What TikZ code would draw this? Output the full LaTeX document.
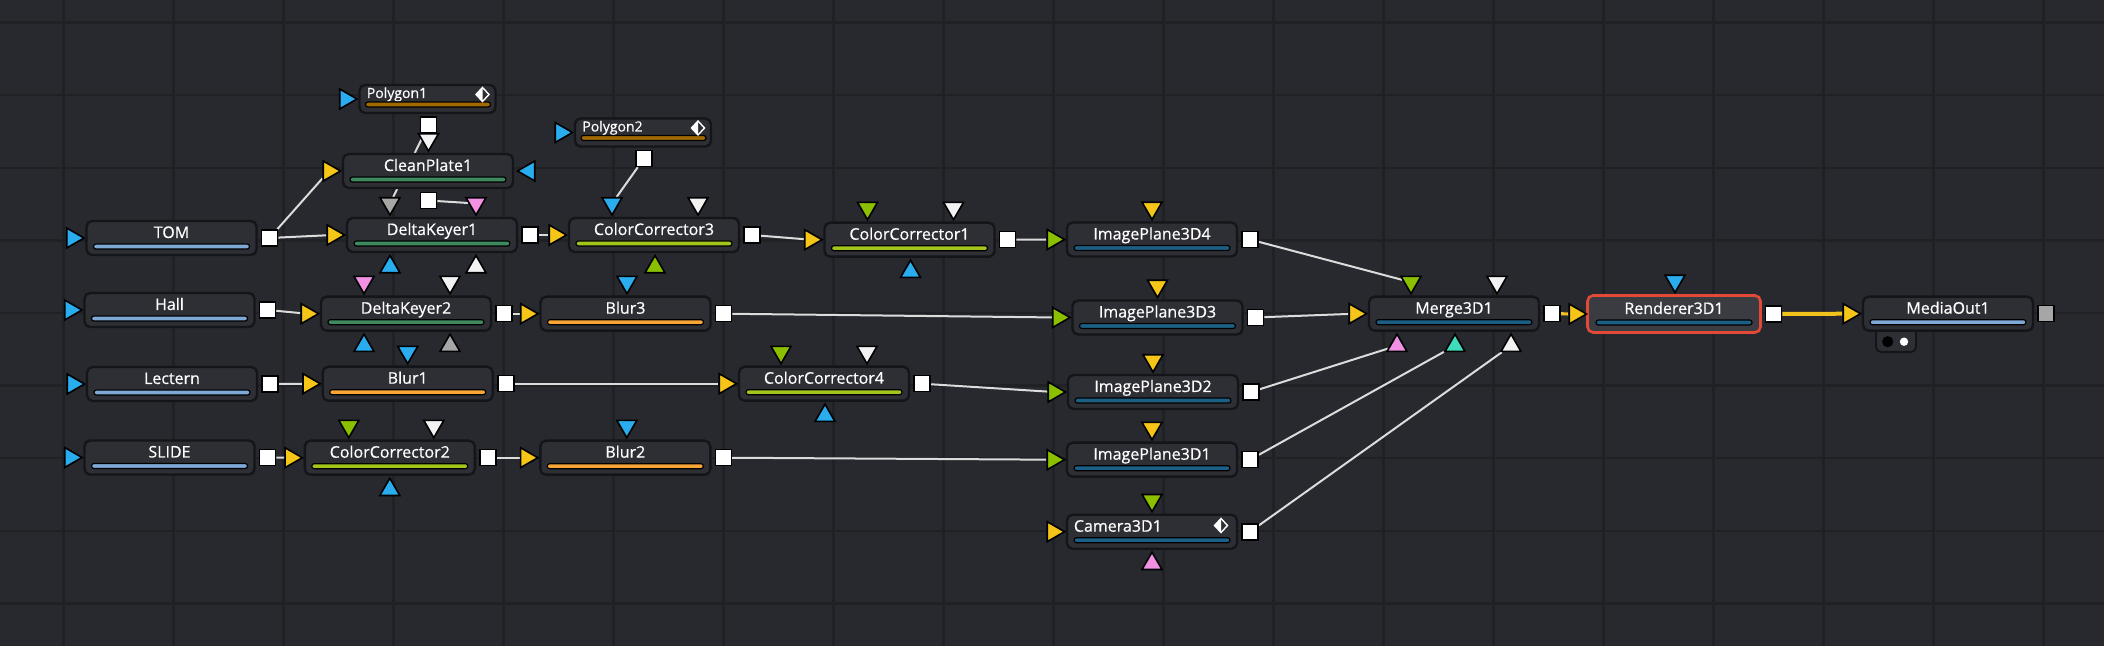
\documentclass[tikz,border=0pt]{standalone}
\usepackage{fontspec}
\setmainfont{Open Sans}
\usepackage{tikz}
\usetikzlibrary{calc,shapes.geometric}
\definecolor{bgx}{HTML}{28292E}
\definecolor{gridx}{HTML}{202125}
\definecolor{nodex}{HTML}{2E2F35}
\definecolor{nodesel}{HTML}{3A3C42}
\definecolor{rimx}{HTML}{141518}
\definecolor{selx}{HTML}{E24A37}
\definecolor{pblue}{HTML}{29ADEF}
\definecolor{pyel}{HTML}{F5C518}
\definecolor{pgrn}{HTML}{8BC000}
\definecolor{ppink}{HTML}{F291E4}
\definecolor{pteal}{HTML}{3FDDBB}
\definecolor{pgray}{HTML}{A6A6A6}
\definecolor{pwhite}{HTML}{F2F2F2}
\definecolor{bload}{HTML}{7EA8D6}
\definecolor{bkey}{HTML}{3E8A5E}
\definecolor{bcc}{HTML}{A2C51C}
\definecolor{bblur}{HTML}{F7A535}
\definecolor{bthree}{HTML}{1C5F85}
\definecolor{bpoly}{HTML}{A06A00}
\definecolor{linkx}{HTML}{DCDCDC}
\definecolor{ylinkx}{HTML}{F2C21D}
\pgfdeclarelayer{bg}
\pgfdeclarelayer{edges}
\pgfsetlayers{bg,edges,main}
\tikzset{
  toolbox/.style={draw=rimx,line width=1.2pt,rounded corners=2.8pt,fill=nodex,minimum width=85pt,minimum height=17pt,inner sep=0pt,outer sep=0pt},
  sel/.style={draw=selx,fill=nodesel,line width=1.3pt,minimum width=86.5pt,minimum height=18.5pt},
  polybox/.style={toolbox,minimum width=68pt,minimum height=14pt},
  tlabel/.style={text=white,font=\fontsize{8}{9}\selectfont\addfontfeature{FakeBold=0.5},inner sep=0pt,anchor=base},
  bar/.style={draw=black,line width=0.6pt,rounded corners=1.2pt},
  pin/.style={regular polygon,regular polygon sides=3,minimum size=11.5pt,inner sep=0pt,draw=black,line width=0.8pt,shape border rotate=-90},
  pout/.style={rectangle,minimum size=8pt,inner sep=0pt,fill=white,draw=black,line width=0.8pt},
  lnk/.style={draw=linkx,line width=1pt},
  ylnk/.style={draw=ylinkx,line width=1.6pt},
  gridln/.style={draw=gridx,line width=1.2pt}
}
% tool node: name, x, y, label, bar colour, input colour
\newcommand{\tool}[7][]{%
  \node[toolbox,#1] (#2) at (#3,#4) {};
  \node[tlabel] (#2-lbl) at (#3,#4) {#5};
  \draw[bar,fill=#6] (#3-78,#4+6) rectangle (#3+78,#4+11);
  \node[pin,fill=#7] (#2-in) at (#3-99,#4) {};}
\newcommand{\keyicon}[2]{%
  \fill[white] (#1,#2-7)--(#1-6.5,#2)--(#1,#2+7)--cycle;
  \draw[white,line width=0.7pt] (#1,#2-7)--(#1+6.5,#2)--(#1,#2+7)--(#1-6.5,#2)--cycle;}
\newcommand{\poly}[4]{%
  \node[polybox] (#1) at (#2,#3) {};
  \node[tlabel,anchor=base west,font=\fontsize{7}{8}\selectfont\addfontfeature{FakeBold=0.5}] at (#2-61,#3-1) {#4};
  \draw[bar,fill=bpoly] (#2-62,#3+3) rectangle (#2+63,#3+8);
  \node[pin,fill=pblue] (#1-in) at (#2-82,#3) {};
  \node[pout] (#1-out) at (#2+1,#3+26) {};
  \keyicon{#2+55}{#3-4.5}}
\newcommand{\tp}[4]{\node[pin,fill=#4,shape border rotate=180] (#1-#2) at ($(#1.north)+(#3,-14.5)$) {};}
\newcommand{\bp}[4]{\node[pin,fill=#4,shape border rotate=0] (#1-#2) at ($(#1.south)+(#3,15)$) {};}

\begin{document}
\begin{tikzpicture}[x=0.5pt,y=-0.5pt]
\useasboundingbox (0,0) rectangle (2104,646);
\begin{pgfonlayer}{bg}
\fill[bgx] (0,0) rectangle (2104,646);
\foreach \i in {0,...,18} \draw[gridln] ({63.6+110*\i},0) -- ++(0,646);
\foreach \j in {0,...,8} \draw[gridln] (0,{22.7+72.6*\j}) -- ++(2104,0);
\end{pgfonlayer}

% loaders
\tool{tom}{171.5}{238}{TOM}{bload}{pblue}
\tool{hall}{169.5}{310}{Hall}{bload}{pblue}
\tool{lectern}{172}{384}{Lectern}{bload}{pblue}
\tool{slide}{169.5}{457.5}{SLIDE}{bload}{pblue}
% masks and keyers
\poly{poly1}{427.5}{99}{Polygon1}
\poly{poly2}{643}{132.5}{Polygon2}
\tool{clean1}{428}{171}{CleanPlate1}{bkey}{pyel}
\node[pin,fill=pblue,shape border rotate=90] (clean1-r) at ($(clean1.east)+(16,0)$) {};
\node[pout] (clean1-out) at ($(clean1.south)+(0.5,12.5)$) {};
\tool{dkey1}{432}{235}{DeltaKeyer1}{bkey}{pyel}
\tool{dkey2}{406}{313.7}{DeltaKeyer2}{bkey}{pyel}
% colour and blur
\tool{blur1}{407.7}{383.7}{Blur1}{bblur}{pyel}
\tool{cc2}{389.8}{457.7}{ColorCorrector2}{bcc}{pyel}
\tool{cc3}{654}{235}{ColorCorrector3}{bcc}{pyel}
\tool{blur3}{625.5}{313.7}{Blur3}{bblur}{pyel}
\tool{blur2}{625.3}{457.7}{Blur2}{bblur}{pyel}
\tool{cc1}{909.5}{239.7}{ColorCorrector1}{bcc}{pyel}
\tool{cc4}{824}{383.7}{ColorCorrector4}{bcc}{pyel}
% 3D
\tool{ip4}{1152}{239.5}{ImagePlane3D4}{bthree}{pgrn}
\tool{ip3}{1157.5}{317.5}{ImagePlane3D3}{bthree}{pgrn}
\tool{ip2}{1153}{392}{ImagePlane3D2}{bthree}{pgrn}
\tool{ip1}{1152}{459.7}{ImagePlane3D1}{bthree}{pgrn}
\tool{cam1}{1152}{531.7}{}{bthree}{pyel}
\node[tlabel,anchor=base west] at ($(cam1.west)+(6.5,0)$) {Camera3D1};
\keyicon{1221}{525.5}
\tool{merge1}{1454}{313.7}{Merge3D1}{bthree}{pyel}
\tool[sel]{rnd1}{1674}{314}{Renderer3D1}{bthree}{pyel}
% output
\draw[draw=rimx,fill=nodex,line width=1pt,rounded corners=2.5pt] (1876,326) rectangle (1916,352);
\fill[black] (1887.7,341.7) circle (2.8pt);
\fill[white] (1904,341.7) circle (2.1pt);
\tool{mout1}{1948}{313.7}{MediaOut1}{bload}{pyel}
\node[pout,fill=pgray] (mout1-out) at ($(mout1.east)+(13,0)$) {};

\foreach \n in {tom,hall,lectern,slide,dkey1,dkey2,blur1,blur2,blur3,cc1,cc2,cc3,cc4,ip1,ip2,ip3,ip4,cam1,merge1,rnd1}
  \node[pout] (\n-out) at ($(\n.east)+(13,0)$) {};

% side inputs
\tp{clean1}{t1}{0.5}{pwhite}
\tp{dkey1}{t1}{-42}{pgray} \tp{dkey1}{t2}{44}{ppink}
\bp{dkey1}{b1}{-42}{pblue} \bp{dkey1}{b2}{44}{pwhite}
\tp{dkey2}{t1}{-42}{ppink} \tp{dkey2}{t2}{44}{pwhite}
\bp{dkey2}{b1}{-42}{pblue} \bp{dkey2}{b2}{44}{pgray}
\tp{cc3}{t1}{-42}{pblue} \tp{cc3}{t2}{44}{pwhite} \bp{cc3}{b1}{1}{pgrn}
\tp{cc1}{t1}{-42}{pgrn} \tp{cc1}{t2}{44}{pwhite} \bp{cc1}{b1}{1}{pblue}
\tp{cc4}{t1}{-43}{pgrn} \tp{cc4}{t2}{43}{pwhite} \bp{cc4}{b1}{1}{pblue}
\tp{cc2}{t1}{-41}{pgrn} \tp{cc2}{t2}{44}{pwhite} \bp{cc2}{b1}{0}{pblue}
\tp{blur1}{t1}{0}{pblue} \tp{blur2}{t1}{1.5}{pblue} \tp{blur3}{t1}{1.5}{pblue}
\foreach \n in {ip1,ip2,ip3,ip4} {\tp{\n}{t1}{0}{pyel}}
\tp{cam1}{t1}{0}{pgrn} \bp{cam1}{b1}{0}{ppink}
\tp{merge1}{t1}{-43}{pgrn} \tp{merge1}{t2}{43}{pwhite}
\bp{merge1}{b1}{-57}{ppink} \bp{merge1}{b2}{1}{pteal} \bp{merge1}{b3}{57}{pwhite}
\tp{rnd1}{t1}{1}{pblue}

\begin{pgfonlayer}{edges}
\foreach \a/\b in {poly1-out/dkey1-t1,clean1-out/dkey1-t2,tom-out/clean1-in,tom-out/dkey1-in,
  dkey1-out/cc3-in,poly2-out/cc3-t1,cc3-out/cc1-in,cc1-out/ip4-in,ip4-out/merge1-t1,
  hall-out/dkey2-in,dkey2-out/blur3-in,blur3-out/ip3-in,ip3-out/merge1-in,
  lectern-out/blur1-in,blur1-out/cc4-in,cc4-out/ip2-in,ip2-out/merge1-b1,
  slide-out/cc2-in,cc2-out/blur2-in,blur2-out/ip1-in,ip1-out/merge1-b2,cam1-out/merge1-b3}
  \draw[lnk] (\a) -- (\b);
\draw[ylnk] (merge1-out) -- (rnd1-in);
\draw[ylnk,line width=2pt] (rnd1-out) -- (mout1-in);
\end{pgfonlayer}
\end{tikzpicture}
\end{document}
